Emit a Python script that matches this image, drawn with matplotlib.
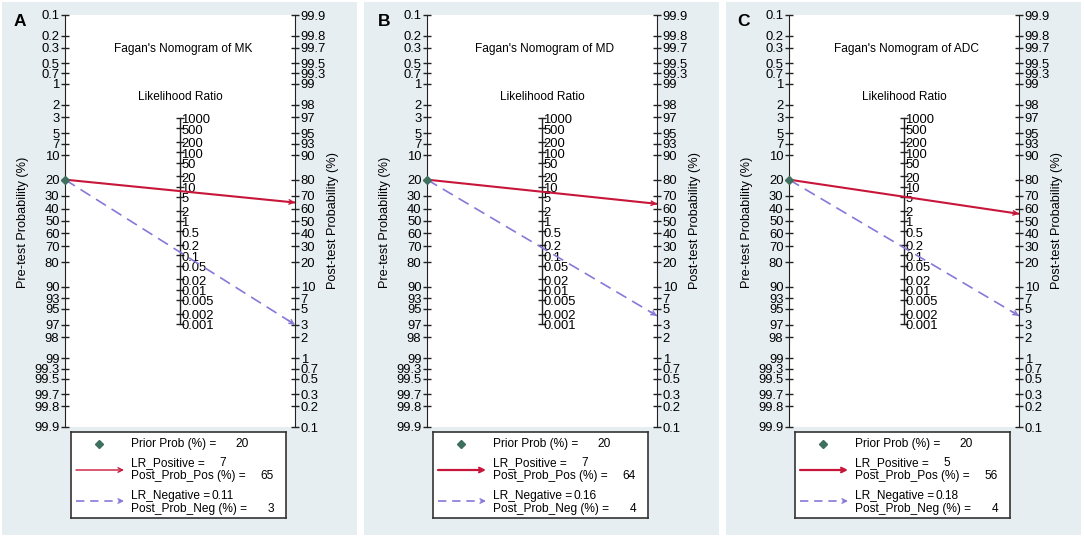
import numpy as np
import matplotlib
matplotlib.use("Agg")
import matplotlib.pyplot as plt
from matplotlib.patches import Rectangle

plt.rcParams["font.family"] = ["Liberation Sans", "DejaVu Sans"]

# data
panels = ["A", "B", "C"]
markers = ["MK", "MD", "ADC"]
prior_prob = [20, 20, 20]
lr_positive = [7, 7, 5]
post_prob_pos = [65, 64, 56]
lr_negative = [0.11, 0.16, 0.18]
post_prob_neg = [3, 4, 4]

pre_ticks = ["0.1", "0.2", "0.3", "0.5", "0.7", "1", "2", "3", "5", "7", "10",
             "20", "30", "40", "50", "60", "70", "80", "90", "93", "95", "97",
             "98", "99", "99.3", "99.5", "99.7", "99.8", "99.9"]
post_ticks = ["99.9", "99.8", "99.7", "99.5", "99.3", "99", "98", "97", "95",
              "93", "90", "80", "70", "60", "50", "40", "30", "20", "10", "7",
              "5", "3", "2", "1", "0.7", "0.5", "0.3", "0.2", "0.1"]
lr_ticks = ["1000", "500", "200", "100", "50", "20", "10", "5", "2", "1",
            "0.5", "0.2", "0.1", "0.05", "0.02", "0.01", "0.005", "0.002", "0.001"]

W, H = 1084, 538
BG = "#e7eef1"
RED = "#c8163a"
BLUE = "#8878d8"
DOT = "#3f6f5f"
DARK = "#222222"
FS = 8.6     # titles / legend
TFS = 9.4    # tick labels
LFS = 9.2    # axis titles


def logit(p):
    return np.log(p / (1 - p))


def fx(px):
    return px / W


def fy(py):
    return 1 - py / H


fig = plt.figure(figsize=(W / 100, H / 100), dpi=100, facecolor="white")

panel_x = [2, 364, 726]
letter_x = [18, 20, 17]
lim = logit(0.999)

for i, x0 in enumerate(panel_x):
    fig.add_artist(Rectangle((fx(x0), fy(535)), 355 / W, 533 / H,
                             transform=fig.transFigure, facecolor=BG,
                             edgecolor="none", zorder=-1))

    ax = fig.add_axes([fx(x0 + 63), fy(427), 230 / W, 412 / H])
    ax.set_facecolor("white")
    ax.set_xlim(0, 1)
    ax.set_ylim(-lim, lim)
    for s in ["top", "bottom", "right"]:
        ax.spines[s].set_visible(False)
    ax.spines["left"].set_color(DARK)
    ax.set_xticks([])
    pre_vals = np.array([float(t) for t in pre_ticks]) / 100
    ax.set_yticks(-logit(pre_vals))
    ax.set_yticklabels(pre_ticks)
    ax.tick_params(axis="y", direction="inout", length=6, width=1, color=DARK,
                   labelsize=TFS, pad=1)

    ax2 = ax.twinx()
    ax2.set_ylim(-lim, lim)
    for s in ["top", "bottom", "left"]:
        ax2.spines[s].set_visible(False)
    ax2.spines["right"].set_color(DARK)
    post_vals = np.array([float(t) for t in post_ticks]) / 100
    ax2.set_yticks(logit(post_vals))
    ax2.set_yticklabels(post_ticks)
    ax2.tick_params(axis="y", direction="inout", length=6, width=1, color=DARK,
                    labelsize=TFS, pad=1)

    # likelihood ratio scale in the middle
    lr_vals = np.log(np.array([float(t) for t in lr_ticks])) / 2
    ax.plot([0.5, 0.5], [lr_vals.max(), lr_vals.min()], color=DARK, lw=1, zorder=3)
    ax.plot(np.full(len(lr_vals), 0.5), lr_vals, ls="none", marker="_",
            ms=6, mew=1, color=DARK, zorder=3)
    for v, t in zip(lr_vals, lr_ticks):
        ax.text(0.506, v - 0.08, t, fontsize=TFS, ha="left", va="center", zorder=3)

    # lines
    y_pre = -logit(prior_prob[i] / 100)
    y_pos = logit(post_prob_pos[i] / 100)
    y_neg = logit(post_prob_neg[i] / 100)
    ax.plot([0, 1], [y_pre, y_pos], color=RED, lw=1.5, zorder=4, clip_on=False)
    ax.plot([0, 1], [y_pre, y_neg], color=BLUE, lw=1.2, ls=(0, (7, 4)),
            zorder=4, clip_on=False)
    for yend, c in [(y_pos, RED), (y_neg, BLUE)]:
        ax.annotate("", xy=(1, yend), xytext=(0.97, y_pre + 0.97 * (yend - y_pre)),
                    arrowprops=dict(arrowstyle="->", color=c, lw=1,
                                    shrinkA=0, shrinkB=0, mutation_scale=8),
                    annotation_clip=False, zorder=5)
    ax.plot([0], [y_pre], marker="D", ms=4.5, color=DOT, ls="none",
            zorder=6, clip_on=False)

    # texts
    fig.text(fx(x0 + 181), fy(49), f"Fagan's Nomogram of {markers[i]}",
             fontsize=FS, ha="center", va="center")
    fig.text(fx(x0 + 178), fy(97), "Likelihood Ratio", fontsize=FS,
             ha="center", va="center")
    fig.text(fx(x0 + 21), fy(222), "Pre-test Probability (%)", fontsize=LFS,
             rotation=90, ha="center", va="center")
    fig.text(fx(x0 + 331), fy(221), "Post-test Probability (%)", fontsize=LFS,
             rotation=90, ha="center", va="center")
    fig.text(fx(x0 + letter_x[i]), fy(22), panels[i], fontsize=12.5,
             fontweight="bold", ha="center", va="center")

    # legend box
    lg = fig.add_axes([fx(x0 + 69), fy(518), 215 / W, 86 / H])
    lg.set_xlim(0, 215)
    lg.set_ylim(86, 0)
    lg.set_xticks([])
    lg.set_yticks([])
    lg.set_facecolor("white")
    for s in lg.spines.values():
        s.set_color("#333333")
        s.set_linewidth(1.2)
    lg.plot([28], [12], marker="D", ms=4.5, color=DOT, ls="none")
    lg.text(60, 12, "Prior Prob (%) =", fontsize=FS, va="center")
    lg.text(178, 12, f"{prior_prob[i]}", fontsize=FS, va="center", ha="right")

    lg.annotate("", xy=(53, 38), xytext=(5, 38),
                arrowprops=dict(arrowstyle="->", color=RED,
                                lw=1.0 if i == 0 else 1.6,
                                shrinkA=0, shrinkB=0, mutation_scale=8))
    lg.text(60, 31, "LR_Positive =", fontsize=FS, va="center")
    lg.text(152, 31, f"{lr_positive[i]:g}", fontsize=FS, va="center", ha="center")
    lg.text(60, 44, "Post_Prob_Pos (%) =", fontsize=FS, va="center")
    lg.text(203, 44, f"{post_prob_pos[i]}", fontsize=FS, va="center", ha="right")

    lg.plot([5, 50], [69, 69], color=BLUE, lw=1.2, ls=(0, (5, 3.5)))
    lg.annotate("", xy=(53, 69), xytext=(48, 69),
                arrowprops=dict(arrowstyle="->", color=BLUE, lw=1,
                                shrinkA=0, shrinkB=0, mutation_scale=8))
    lg.text(60, 64, "LR_Negative =", fontsize=FS, va="center")
    lg.text(152, 64, f"{lr_negative[i]:g}", fontsize=FS, va="center", ha="center")
    lg.text(60, 77, "Post_Prob_Neg (%) =", fontsize=FS, va="center")
    lg.text(203, 77, f"{post_prob_neg[i]}", fontsize=FS, va="center", ha="right")

fig.savefig("out.png", dpi=100, facecolor="white")
